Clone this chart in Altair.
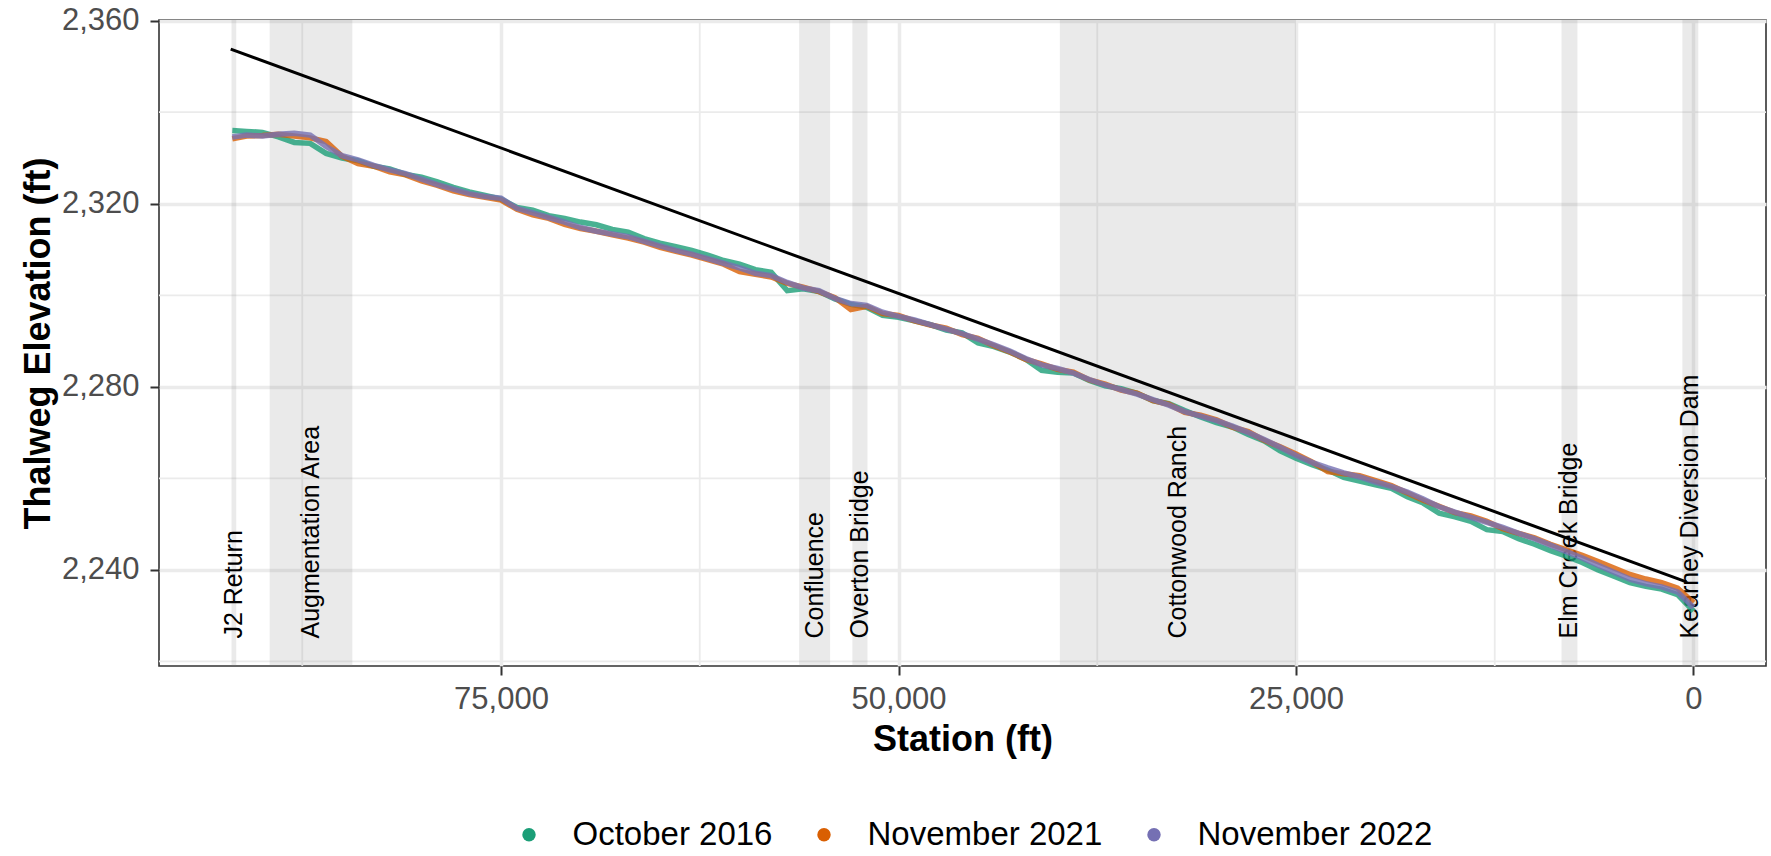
import altair as alt
import pandas as pd

# ---- survey profiles (station in ft upstream of Kearney Diversion Dam, thalweg elevation in ft)
stations = list(range(0, 92000, 1000)) + [91900]

elev_oct_2016 = [
    2231.0, 2234.6, 2235.8, 2236.4, 2237.2, 2238.6, 2240.0, 2241.6, 2243.0, 2244.2,
    2245.6, 2246.8, 2248.4, 2248.8, 2250.6, 2251.6, 2252.4, 2254.6, 2256.0, 2257.8,
    2258.6, 2259.4, 2260.2, 2261.8, 2263.0, 2264.4, 2266.0, 2268.2, 2269.6, 2271.2,
    2272.2, 2273.4, 2274.8, 2276.3, 2277.0, 2278.6, 2279.6, 2280.2, 2281.4, 2283.0,
    2283.2, 2283.6, 2286.0, 2287.6, 2288.8, 2289.6, 2291.8, 2292.4, 2293.6, 2294.4,
    2295.2, 2295.6, 2297.4, 2298.0, 2299.2, 2300.8, 2301.4, 2301.0, 2305.0, 2305.6,
    2306.8, 2307.6, 2308.8, 2309.8, 2310.6, 2311.4, 2312.4, 2313.8, 2314.4, 2315.4,
    2316.0, 2316.8, 2317.4, 2318.6, 2319.2, 2321.0, 2321.8, 2322.6, 2323.6, 2324.8,
    2325.8, 2326.4, 2327.6, 2328.2, 2329.4, 2330.0, 2331.0, 2333.2, 2333.4, 2334.6,
    2335.6, 2335.8, 2336.0,
]

elev_nov_2021 = [
    2232.8, 2236.0, 2237.2, 2238.0, 2239.0, 2240.4, 2241.8, 2243.2, 2244.4, 2245.6,
    2247.0, 2248.0, 2249.0, 2250.6, 2251.8, 2252.5, 2253.9, 2255.2, 2256.8, 2258.4,
    2259.5, 2260.6, 2261.0, 2261.5, 2263.6, 2265.3, 2266.9, 2268.3, 2270.2, 2271.2,
    2272.8, 2273.8, 2274.4, 2276.2, 2277.0, 2278.6, 2279.3, 2280.6, 2281.5, 2283.2,
    2283.8, 2285.0, 2286.0, 2287.6, 2289.0, 2290.6, 2291.4, 2292.8, 2293.5, 2294.4,
    2295.6, 2296.0, 2297.6, 2296.9, 2299.5, 2300.8, 2301.8, 2302.6, 2304.0, 2304.6,
    2305.2, 2306.8, 2307.8, 2308.8, 2309.6, 2310.5, 2311.6, 2312.5, 2313.2, 2314.0,
    2314.6, 2315.5, 2316.8, 2317.6, 2318.8, 2320.8, 2321.4, 2322.0, 2322.8, 2324.0,
    2325.0, 2326.3, 2327.0, 2328.2, 2328.8, 2330.4, 2333.6, 2334.4, 2334.8, 2335.2,
    2334.9, 2334.8, 2334.2,
]

elev_nov_2022 = [
    2231.8, 2235.2, 2236.3, 2237.0, 2238.0, 2239.5, 2241.0, 2242.6, 2244.0, 2245.4,
    2246.8, 2248.0, 2249.3, 2250.4, 2251.5, 2252.6, 2253.8, 2255.5, 2257.0, 2258.2,
    2259.2, 2260.3, 2261.2, 2262.3, 2263.5, 2265.0, 2266.8, 2268.5, 2270.0, 2271.4,
    2272.6, 2273.6, 2274.6, 2276.0, 2277.2, 2278.4, 2279.4, 2280.4, 2281.6, 2283.0,
    2284.0, 2284.8, 2286.2, 2287.8, 2289.2, 2290.4, 2291.6, 2292.6, 2293.6, 2294.6,
    2295.4, 2296.3, 2297.8, 2298.2, 2299.3, 2301.0, 2301.6, 2302.8, 2304.3, 2304.8,
    2306.0, 2307.0, 2308.0, 2309.0, 2309.8, 2310.8, 2311.8, 2312.8, 2313.4, 2314.0,
    2314.8, 2316.0, 2317.0, 2318.0, 2319.0, 2321.2, 2321.6, 2322.2, 2323.2, 2324.2,
    2325.4, 2326.6, 2327.4, 2328.4, 2329.6, 2330.5, 2332.5, 2335.0, 2335.4, 2335.2,
    2334.8, 2335.0, 2334.6,
]

survey_names = ["October 2016", "November 2021", "November 2022"]
survey_colors = ["#1B9E77", "#D95F02", "#7570B3"]

# ---- shaded reaches and landmarks
reach_names = ["J2 Return", "Augmentation Area", "Confluence", "Overton Bridge",
               "Cottonwood Ranch", "Elm Creek Bridge", "Kearney Diversion Dam"]
reach_start = [91950, 89550, 56250, 52900, 39850, 8300, 700]
reach_end = [91650, 84350, 54300, 51950, 25000, 7300, -300]
label_station = [91800, 86950, 55275, 52425, 32425, 7800, 200]
label_elev = 2225

# ---- reference grade line
grade_station = [92000, 450]
grade_elev = [2353.8, 2237.4]

# ---- axis breaks
x_major = [0, 25000, 50000, 75000]
x_minor = [12500, 37500, 62500, 87500]
y_major = [2240, 2280, 2320, 2360]
y_minor = [2220, 2260, 2300, 2340]

X_DOMAIN = [-4560, 96510]
Y_DOMAIN = [2219.0, 2360.15]
FONT = "Liberation Sans"

W, H = 1607, 646


def xenc(field="station"):
    return alt.X(
        f"{field}:Q",
        scale=alt.Scale(domain=X_DOMAIN, reverse=True, nice=False, zero=False),
        axis=alt.Axis(
            values=x_major, format=",.0f", title="Station (ft)",
            grid=True, gridColor="#EBEBEB", gridWidth=3.5,
            domain=False, ticks=True, tickSize=9, tickWidth=2, tickColor="#333333",
            labelFont=FONT, labelFontSize=31, labelColor="#4D4D4D",
            labelBaseline="alphabetic", labelPadding=33, labelFlush=False,
            titleFont=FONT, titleFontSize=36, titleFontWeight="bold", titleColor="black",
            titleX=W / 2, titleY=84, titleBaseline="alphabetic", titleAlign="center",
        ),
    )


def yenc(field="elev"):
    return alt.Y(
        f"{field}:Q",
        scale=alt.Scale(domain=Y_DOMAIN, nice=False, zero=False),
        axis=alt.Axis(
            values=y_major, format=",.0f", title="Thalweg Elevation (ft)",
            grid=True, gridColor="#EBEBEB", gridWidth=3.5,
            domain=False, ticks=True, tickSize=9, tickWidth=2, tickColor="#333333",
            labelFont=FONT, labelFontSize=31, labelColor="#4D4D4D",
            labelPadding=11, labelFlush=False,
            titleFont=FONT, titleFontSize=36, titleFontWeight="bold", titleColor="black",
            titleAngle=270, titleX=-110, titleY=H / 2, titleBaseline="alphabetic",
            titleAlign="center",
        ),
    )


# tables built from the arrays above
survey_rows = []
for name, elevs in zip(survey_names, [elev_oct_2016, elev_nov_2021, elev_nov_2022]):
    for s, e in zip(stations, elevs):
        survey_rows.append({"station": s, "elev": e, "survey": name})
survey_df = pd.DataFrame(survey_rows)

reach_df = pd.DataFrame({"name": reach_names, "start": reach_start, "end": reach_end})
label_df = pd.DataFrame({"name": reach_names, "station": label_station,
                         "elev": [label_elev] * len(reach_names)})
grade_df = pd.DataFrame({"station": grade_station, "elev": grade_elev})
xminor_df = pd.DataFrame({"station": x_minor})
yminor_df = pd.DataFrame({"elev": y_minor})

color_scale = alt.Scale(domain=survey_names, range=survey_colors)

minor_v = alt.Chart(xminor_df).mark_rule(color="#EBEBEB", strokeWidth=1.8).encode(x=xenc())
minor_h = alt.Chart(yminor_df).mark_rule(color="#EBEBEB", strokeWidth=1.8).encode(y=yenc())

reaches = alt.Chart(reach_df).mark_rect(color="#808080", opacity=0.17).encode(
    x=xenc("start"), x2="end:Q"
)

labels = alt.Chart(label_df).mark_text(
    angle=270, align="left", baseline="middle", font=FONT, fontSize=25, color="black"
).encode(x=xenc(), y=yenc(), text="name:N")

# one profile line per survey, oldest first so the latest sits on top
profile_lines = [
    alt.Chart(survey_df[survey_df["survey"] == name])
    .mark_line(strokeWidth=5.5, opacity=0.8, color=col)
    .encode(x=xenc(), y=yenc(), order=alt.Order("station:Q"))
    for name, col in zip(survey_names, survey_colors)
]

# survey points: transparent in the panel, they only carry the colour legend
legend_points = alt.Chart(survey_df).mark_point(filled=True, size=180, opacity=0).encode(
    x=xenc(), y=yenc(),
    color=alt.Color(
        "survey:N", scale=color_scale, sort=survey_names,
        legend=alt.Legend(
            title=None, orient="none", direction="horizontal",
            legendX=353.5, legendY=798, symbolType="circle", symbolSize=180,
            symbolOpacity=1, symbolStrokeWidth=0,
            labelFont=FONT, labelFontSize=33, labelColor="black", labelLimit=500,
            labelOffset=27, columnPadding=35, padding=0,
        ),
    ),
)

grade = alt.Chart(grade_df).mark_line(color="black", strokeWidth=3).encode(
    x=xenc(), y=yenc()
)

chart = (
    alt.layer(minor_v, minor_h, reaches, labels, *profile_lines, legend_points, grade)
    .properties(
        width=W, height=H,
        autosize=alt.AutoSizeParams(type="none"),
        padding={"left": 159, "top": 20, "right": 5, "bottom": 190},
        background="white",
    )
    .configure_view(stroke="#333333", strokeWidth=1.6)
    .configure_legend(symbolSize=180, symbolType="circle")
)

chart.save("out.html", embed_options={"renderer": "svg", "actions": False})
